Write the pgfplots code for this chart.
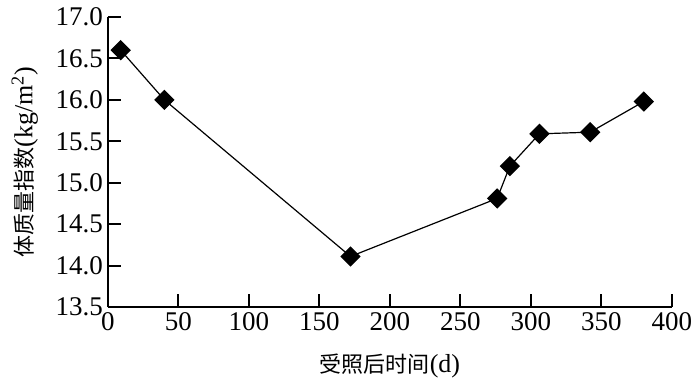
\documentclass[border=0pt]{standalone}
\usepackage{pgfplots}
\pgfplotsset{compat=1.18}
\usepackage{fontspec}
\setmainfont{Liberation Serif}
\newfontfamily\cjk{Noto Sans CJK SC}
\begin{document}
\begin{tikzpicture}
\path[use as bounding box] (-54pt,-37pt) rectangle (296pt,153.5pt);
\begin{axis}[
  scale only axis,
  width=282pt, height=145pt,
  xmin=0, xmax=400, ymin=13.5, ymax=17.0,
  axis x line*=bottom, axis y line*=left,
  axis line style={line width=1pt, -},
  xtick={0,50,...,400},
  ytick={13.5,14,...,17},
  tick align=inside,
  major tick length=6.5pt,
  tick style={line width=1pt, black},
  /pgf/number format/assume math mode=true,
  yticklabel style={/pgf/number format/fixed, /pgf/number format/fixed zerofill, /pgf/number format/precision=1, xshift=1pt},
  ticklabel style={font=\fontsize{13.5}{15}\selectfont},
  xticklabel style={yshift=1pt},
  xlabel={{\cjk\fontsize{11}{13}\selectfont 受照后时间}(d)},
  ylabel={{\cjk\fontsize{11}{13}\selectfont 体质量指数}(kg/m\textsuperscript{2})},
  label style={font=\fontsize{13}{15}\selectfont},
  xlabel style={yshift=-5pt},
  ylabel style={yshift=2pt},
]
\addplot[black, line width=0.6pt, mark=square*, mark size=3.3pt, mark options={rotate=45, fill=black}]
coordinates {
(9,16.6) (40,16.0) (172,14.11) (276,14.81) (285,15.2) (306,15.59) (342,15.61) (380,15.98)
};
\end{axis}
\end{tikzpicture}
\end{document}
